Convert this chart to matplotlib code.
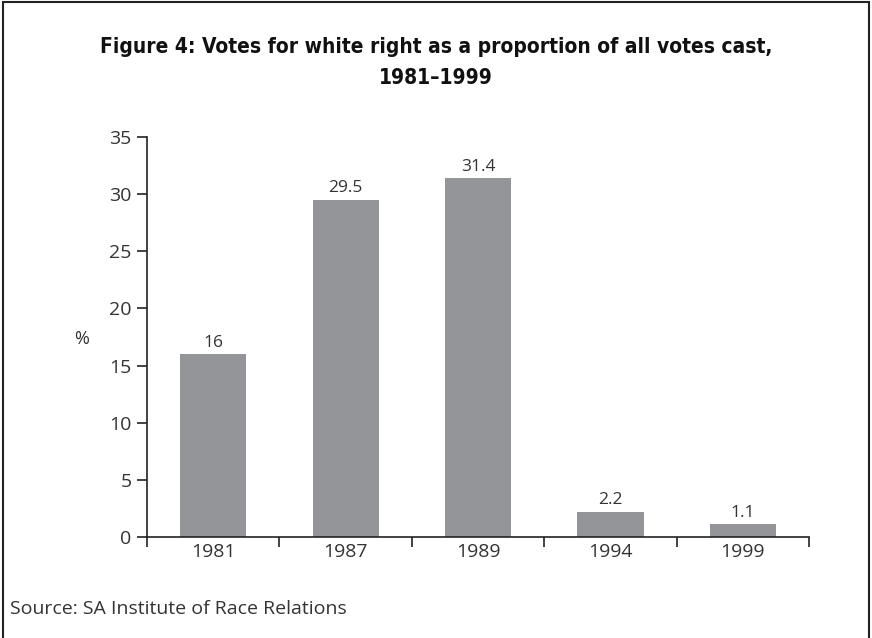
import matplotlib
matplotlib.use("Agg")
import matplotlib.pyplot as plt
from matplotlib.patches import Rectangle
from matplotlib import font_manager
from matplotlib.font_manager import FontProperties

years = ["1981", "1987", "1989", "1994", "1999"]
values = [16, 29.5, 31.4, 2.2, 1.1]
value_labels = ["16", "29.5", "31.4", "2.2", "1.1"]
yticks = [0, 5, 10, 15, 20, 25, 30, 35]

# look for a bold condensed face for the title
cands = []
for f in font_manager.fontManager.ttflist:
    nm = f.name.lower()
    w = f.weight if isinstance(f.weight, int) else 400
    cond = ("condensed" in nm or "narrow" in nm or
            (isinstance(f.stretch, str) and "condensed" in f.stretch) or
            (isinstance(f.stretch, int) and f.stretch < 500))
    if cond and (w >= 600 or "bold" in f.fname.lower()):
        cands.append(f)
if cands:
    title_fp = FontProperties(fname=cands[0].fname, size=15)
else:
    title_fp = FontProperties(family="Lato", weight="bold", size=15)

body_font = "Open Sans"

fig = plt.figure(figsize=(8.72, 6.38), dpi=100)
ax = fig.add_axes([147/872, 1-537/638, (809-147)/872, 400/638])

text_col = "#333333"
bar_col = "#939598"
x = list(range(len(years)))
ax.bar(x, values, width=0.5, color=bar_col, zorder=2)
for xi, v, lab in zip(x, values, value_labels):
    ax.annotate(lab, (xi, v), xytext=(0, 2.5), textcoords="offset points",
                ha="center", va="bottom", fontsize=12.5, color=text_col, family=body_font)

ax.set_xlim(-0.5, len(years)-0.5)
ax.set_ylim(0, 35)
ax.set_yticks(yticks)
ax.set_yticklabels([str(t) for t in yticks], fontsize=14, color=text_col, family=body_font)
ax.set_xticks(x)
ax.set_xticklabels(years, fontsize=14, color=text_col, family=body_font)
ax.tick_params(axis="x", length=0, pad=4)
ax.set_xticks([i-0.5 for i in range(len(years)+1)], minor=True)
ax.tick_params(axis="x", which="minor", length=7, width=1.2, direction="out", color="#222222")
ax.tick_params(axis="y", length=7, width=1.2, direction="out", color="#222222", pad=4)
for s in ["top", "right"]:
    ax.spines[s].set_visible(False)
for s in ["left", "bottom"]:
    ax.spines[s].set_linewidth(1.2)
    ax.spines[s].set_color("#222222")

fig.text(82/872, 1-339/638, "%", fontsize=13, color=text_col, family=body_font, ha="center", va="center")

fig.text(0.5, 1-47/638, "Figure 4: Votes for white right as a proportion of all votes cast,",
         fontproperties=title_fp, ha="center", va="center", color="#111111")
fig.text(0.5, 1-78/638, "1981\u20131999",
         fontproperties=title_fp, ha="center", va="center", color="#111111")

fig.text(10/872, 1-609/638, "Source: SA Institute of Race Relations", fontsize=14,
         color=text_col, family=body_font, ha="left", va="center")

fig.patches.append(Rectangle((3/872, -0.02), (869-3)/872, 1.02-2/638,
                             transform=fig.transFigure, fill=False, edgecolor="#222222", linewidth=1.5))

fig.savefig("out.png", dpi=100)
